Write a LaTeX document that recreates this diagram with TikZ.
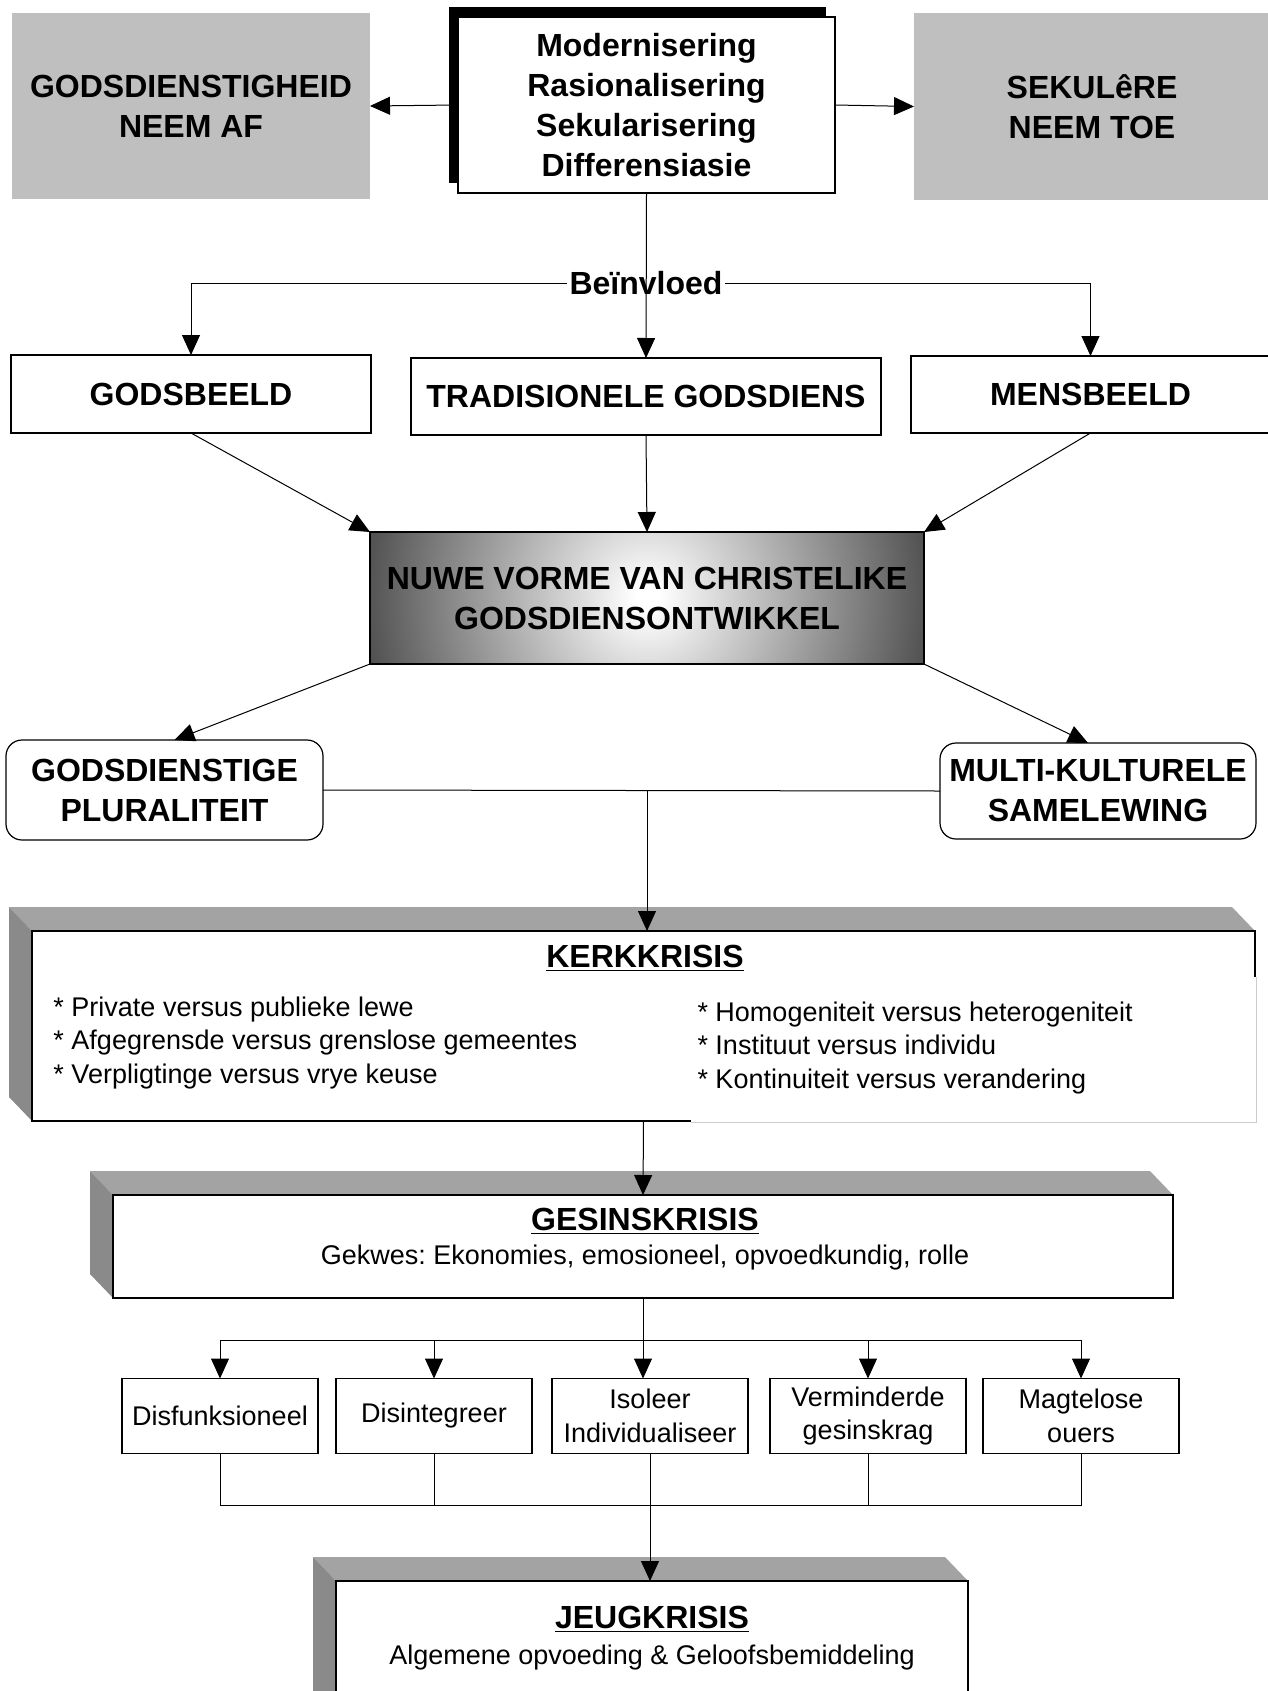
\documentclass[tikz,border=0pt]{standalone}
\usepackage{fontspec}
\setmainfont{Liberation Sans}
\frenchspacing
\usetikzlibrary{calc,positioning,arrows.meta,shadows,backgrounds}

\pgfdeclareradialshading{nuweglow}{\pgfpoint{0bp}{0bp}}{color(0bp)=(white); color(1bp)=(white); color(25bp)=(black!70); color(50bp)=(black!70)}

\tikzset{
  lbl/.style={font=\bfseries\fontsize{16}{20}\selectfont, align=center},
  txt/.style={font=\fontsize{13.5}{16.75}\selectfont},
  graybox/.style={lbl, fill=black!25, inner sep=0pt, outer sep=0pt},
  plainbox/.style={lbl, draw, line width=0.6pt, fill=white, inner sep=0pt, outer sep=0pt},
  roundbox/.style={plainbox, rounded corners=8pt},
  kidbox/.style={txt, align=center, draw, line width=0.6pt, fill=white, inner sep=0pt, outer sep=0pt,
    minimum width=98pt, minimum height=37.5pt},
  crisis/.style={draw, line width=0.6pt, fill=white, inner sep=0pt, outer sep=0pt},
  bevtop/.style={fill=black!36},
  bevleft/.style={fill=black!46}
}

\newcommand{\bevel}[1]{
  \fill[bevtop] (#1.north west) -- ++(-23,-24) -- ($(#1.north east)+(-23,-24)$) -- (#1.north east) -- cycle;
  \fill[bevleft] (#1.north west) -- ++(-23,-24) -- ($(#1.south west)+(-23,-24)$) -- (#1.south west) -- cycle;
}

\begin{document}
\begin{tikzpicture}[x=0.5pt, y=-0.5pt, line width=0.5pt, >={Triangle[length=10pt,width=9pt]}]
\clip (0,0) rectangle (1268,1691);

\node[graybox, minimum width=179pt, minimum height=93pt] (afneem) at (191,106) {GODSDIENSTIGHEID\\NEEM AF};
\node[graybox, minimum width=178pt, minimum height=93.5pt] (toeneem) at (1092,106.5) {SEKUL\^eRE\\NEEM TOE};
\node[plainbox, line width=1.3pt, minimum width=188.5pt, minimum height=88pt,
  general shadow={fill=black, shadow xshift=-4.75pt, shadow yshift=5pt}] (drywer) at (646.5,105)
  {Modernisering\\Rasionalisering\\Sekularisering\\Differensiasie};
\draw[->] (drywer.west) -- (afneem.east);
\draw[->] (drywer.east) -- (toeneem.west);

\node[lbl, inner sep=1pt] (invloed) at (646,283) {Be\"invloed};
\node[plainbox, minimum width=180pt, minimum height=39pt] (godsbeeld) at (191,394) {GODSBEELD};
\node[plainbox, minimum width=235pt, minimum height=38.5pt] (tradisie) at (646,396.5) {TRADISIONELE GODSDIENS};
\node[plainbox, minimum width=179.5pt, minimum height=38.5pt] (mensbeeld) at (1090.5,394.5) {MENSBEELD};
\draw[->] (drywer.south) -- (tradisie.north);
\draw[->] (invloed.west) -| (godsbeeld.north);
\draw[->] (invloed.east) -| (mensbeeld.north);

\node[plainbox, minimum width=277pt, minimum height=66pt,
  path picture={\shade[shading=nuweglow] (path picture bounding box.center) circle (145pt);}] (nuwe) at (647,598)
  {NUWE VORME VAN CHRISTELIKE\\GODSDIENSONTWIKKEL};
\draw[->] (godsbeeld.south) -- (nuwe.north west);
\draw[->] (tradisie.south) -- (nuwe.north);
\draw[->] (mensbeeld.south) -- (nuwe.north east);

\node[roundbox, minimum width=158.5pt, minimum height=50pt] (pluraliteit) at (164.5,790) {GODSDIENSTIGE\\PLURALITEIT};
\node[roundbox, minimum width=158pt, minimum height=48pt] (multi) at (1098,791) {MULTI-KULTURELE\\SAMELEWING};
\draw[->] (nuwe.south west) -- ($(pluraliteit.north)+(10,0)$);
\draw[->] (nuwe.south east) -- ($(multi.north)+(-10,0)$);
\draw (pluraliteit.east) -- (multi.west);

\node[crisis, minimum width=611.5pt, minimum height=95pt] (kerk) at (643.5,1026) {};
\begin{scope}[on background layer]
\bevel{kerk}
\end{scope}
\draw[->] (nuwe.south |- pluraliteit.east) -- (nuwe.south |- kerk.north);
\node[lbl] (kerktitel) at (645,958) {\underline{KERKKRISIS}};
\node[txt, align=left, anchor=west, inner sep=0pt] (kerklinks) at (53,1043)
  {* Private versus publieke lewe\\* Afgegrensde versus grenslose gemeentes\\* Verpligtinge versus vrye keuse};
\fill[white] (691,977) rectangle (1256,1122);
\draw[black!20] (1256,977) -- (1256,1122) -- (691,1122);
\node[txt, align=left, anchor=west, inner sep=0pt] (kerkregs) at (697,1048)
  {* Homogeniteit versus heterogeniteit\\* Instituut versus individu\\* Kontinuiteit versus verandering};

\node[crisis, minimum width=530pt, minimum height=51.5pt] (gesin) at (643,1246.5) {};
\begin{scope}[on background layer]
\bevel{gesin}
\end{scope}
\draw[->] (kerk.south) -- (gesin.north);
\node[lbl] (gesintitel) at (645,1221) {\underline{GESINSKRISIS}};
\node[txt] (gesinsub) at (645,1258) {Gekwes: Ekonomies, emosioneel, opvoedkundig, rolle};

\foreach \x/\nm/\t in {220/disf/Disfunksioneel, 434/disint/Disintegreer, 650/isol/{Isoleer\\Individualiseer},
  868/verm/{Verminderde\\gesinskrag}, 1081/magt/{Magtelose\\ouers}}
  \node[kidbox] (\nm) at (\x,1416) {\t};

\coordinate (tak) at ($(gesin.south)+(0,42)$);
\draw[->] (gesin.south) -- (gesin.south |- isol.north);
\draw (tak -| disf.north) -- (tak -| magt.north);
\foreach \b in {disf,disint,verm,magt}
  \draw[->] (tak -| \b.north) -- (\b.north);

\coordinate (saam) at ($(isol.south)+(0,52)$);
\foreach \b in {disf,disint,verm,magt}
  \draw (\b.south) -- (saam -| \b.south);
\draw (saam -| disf.south) -- (saam -| magt.south);

\node[crisis, minimum width=316pt, minimum height=79.5pt] (jeug) at (652,1660.5) {};
\begin{scope}[on background layer]
\bevel{jeug}
\end{scope}
\draw[->] (isol.south) -- (isol.south |- jeug.north);
\node[lbl] (jeugtitel) at (652,1619) {\underline{JEUGKRISIS}};
\node[txt] (jeugsub) at (652,1657) {Algemene opvoeding \& Geloofsbemiddeling};
\end{tikzpicture}
\end{document}
